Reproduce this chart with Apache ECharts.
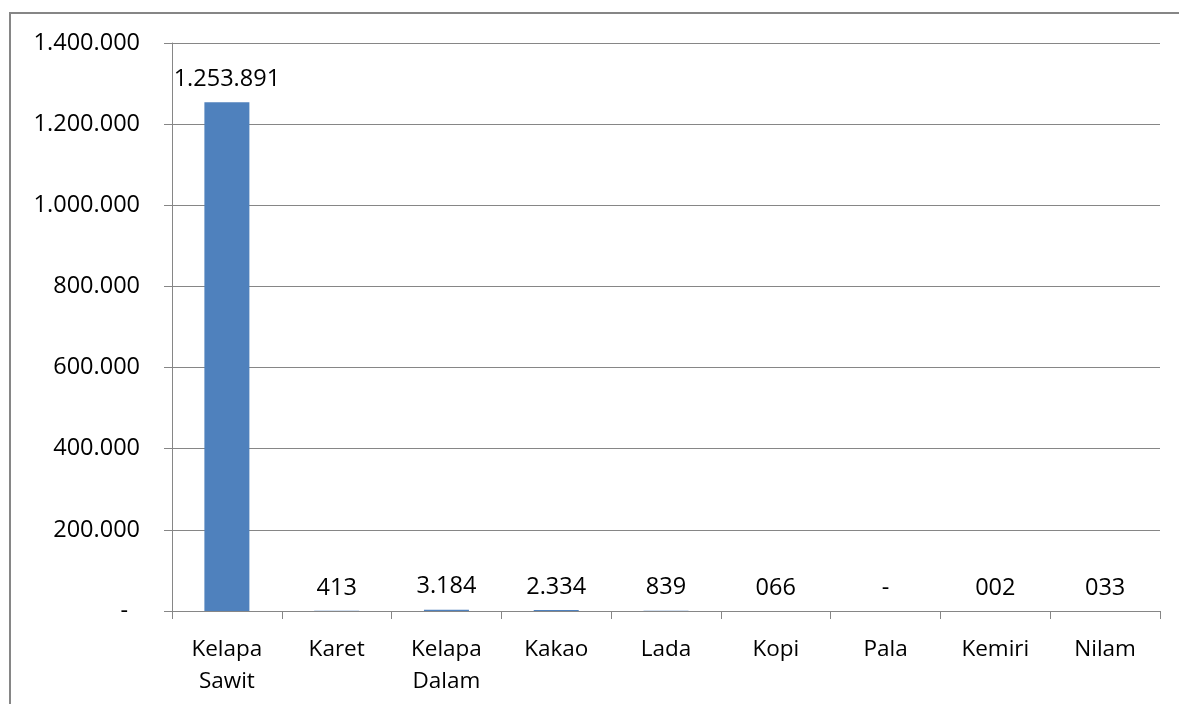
<!DOCTYPE html>
<html><head><meta charset="utf-8">
<script src="https://cdn.jsdelivr.net/npm/echarts@6/dist/echarts.min.js"></script>
<style>
html,body{margin:0;padding:0;background:#fff;overflow:hidden}
#frame{position:absolute;left:9px;top:12px;width:1200px;height:720px;border:2px solid #868686;box-sizing:border-box}
#c{position:absolute;left:0;top:0;width:1179px;height:704px}
</style></head>
<body>
<div id="frame"></div>
<div id="c"></div>
<script>
const categories = ['Kelapa\nSawit','Karet','Kelapa\nDalam','Kakao','Lada','Kopi','Pala','Kemiri','Nilam'];
const values = [1253891, 413, 3184, 2334, 839, 66, 0, 2, 33];
const valueLabels = ['1.253.891','413','3.184','2.334','839','066','-','002','033'];
const yTicks = [0, 200000, 400000, 600000, 800000, 1000000, 1200000, 1400000];

const FONT = 'Open Sans';
function fmt(v){
  if (v === 0) return '{z|-}';
  return String(v).replace(/\B(?=(\d{3})+(?!\d))/g, '.');
}
const chart = echarts.init(document.getElementById('c'));
chart.setOption({
  animation:false,
  grid:{left:172,right:19,top:43,bottom:93},
  xAxis:{
    type:'category',
    data:categories,
    axisLine:{lineStyle:{color:'#868686',width:1}},
    axisTick:{show:true,length:8,alignWithLabel:false,lineStyle:{color:'#868686'}},
    axisLabel:{color:'#000',fontFamily:FONT,fontSize:22.5,lineHeight:32,margin:23,interval:0}
  },
  yAxis:{
    type:'value',
    min:yTicks[0],max:yTicks[yTicks.length-1],interval:200000,
    axisLine:{show:true,lineStyle:{color:'#868686',width:1}},
    axisTick:{show:true,length:8,lineStyle:{color:'#868686'}},
    splitLine:{lineStyle:{color:'#868686',width:1}},
    axisLabel:{color:'#000',fontFamily:FONT,fontSize:23.5,margin:32,formatter:fmt,
      rich:{z:{fontFamily:FONT,fontSize:23.5,color:'#000',padding:[0,12,0,0]}}}
  },
  series:[{
    type:'bar',
    data:values,
    barWidth:45,
    itemStyle:{color:'#4F81BD'},
    label:{show:true,position:'top',distance:11,color:'#000',fontFamily:FONT,fontSize:23.5,
      formatter:p=>valueLabels[p.dataIndex]}
  }]
});
</script>
</body></html>
